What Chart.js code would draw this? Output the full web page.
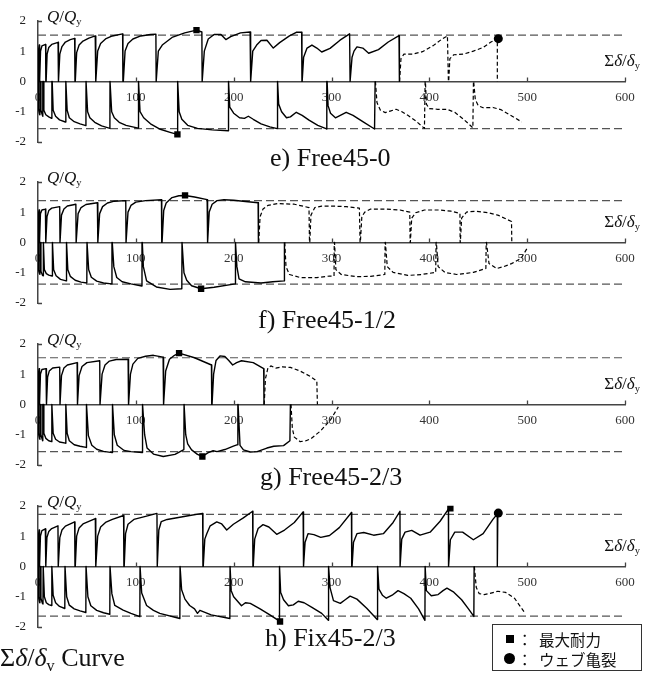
<!DOCTYPE html>
<html><head><meta charset="utf-8">
<script src="https://cdn.jsdelivr.net/npm/chart.js@4.4.0/dist/chart.umd.min.js"></script>
<style>
body{margin:0;background:#fff;width:660px;height:676px;position:relative;overflow:hidden;font-family:"Liberation Serif","DejaVu Serif",serif;color:#111}
canvas{position:absolute;left:0}
.t{position:absolute;white-space:nowrap;line-height:1}
.title{font-size:26px}
.ax{font-size:17px}
.ax i,.bt i{font-style:italic}
sub{font-size:0.62em;vertical-align:-0.28em;line-height:0}
#leg{position:absolute;left:492px;top:624px;width:148px;height:45px;border:1px solid #333;background:#fff;font-family:"Noto Sans CJK JP",sans-serif;font-size:15.5px;color:#111}
#leg .r{position:absolute;left:0;width:148px;height:20px;line-height:20px}
#leg .sq{position:absolute;left:13px;top:6px;width:8px;height:8px;background:#000}
#leg .ci{position:absolute;left:11px;top:4px;width:11px;height:11px;border-radius:50%;background:#000}
#leg .co{position:absolute;left:24px;top:0}
#leg .tx{position:absolute;left:46px;top:0}
</style></head><body>
<canvas id="ce" width="660" height="162" style="top:1px"></canvas>
<canvas id="cf" width="660" height="162" style="top:162px"></canvas>
<canvas id="cg" width="660" height="162" style="top:324px"></canvas>
<canvas id="ch" width="660" height="162" style="top:486px"></canvas>
<div class="t title" style="left:270px;top:145px">e) Free45-0</div>
<div class="t title" style="left:258px;top:307px">f) Free45-1/2</div>
<div class="t title" style="left:260px;top:464px">g) Free45-2/3</div>
<div class="t title" style="left:265px;top:625px">h) Fix45-2/3</div>
<div class="t title bt" style="left:0px;top:645px">Σ<i>δ</i>/<i>δ</i><sub>v</sub> Curve</div>
<div id="leg">
  <div class="r" style="top:4px"><div class="sq"></div><span class="co">：</span><span class="tx">最大耐力</span></div>
  <div class="r" style="top:24px"><div class="ci"></div><span class="co">：</span><span class="tx">ウェブ亀裂</span></div>
</div>
<script>
// ---------- data (x = Σδ/δy, y = Q/Qy) ----------
const xTicks = [0,100,200,300,400,500,600];
const yTicks = [-2,-1,0,1,2];

// e) Free45-0
const ePosSolid = [[0,0],[0.4,1.0],[1.2,1.2],[1.5,0],[1.8,0],[2.6,1.0],[4,1.17],[7.8,1.22],[8,0],[8.3,0],[9.3,0.9],[11,1.12],[14,1.22],[20.5,1.29],[20.8,0],[21,0],[22.3,0.9],[24.5,1.15],[28,1.3],[33,1.38],[37.5,1.42],[37.8,0],[38.1,0],[39.5,0.95],[42,1.2],[46,1.33],[52,1.43],[58.5,1.5],[58.9,0],[59.2,0],[61,1.0],[64,1.25],[69,1.4],[76,1.5],[86.5,1.57],[86.8,0],[87.2,0],[89,1.0],[92,1.25],[97,1.4],[105,1.5],[115,1.55],[120.5,1.56],[120.8,0],[121.2,0],[123,1.0],[127,1.2],[137,1.45],[150,1.6],[162,1.69],[167.5,1.63],[167.8,0],[168.2,0],[170,1.0],[174,1.4],[180,1.55],[187,1.55],[192,1.38],[197,1.48],[207,1.6],[216.8,1.63],[217.2,0],[217.5,0],[219.5,1.0],[223.5,1.2],[228,1.35],[234,1.36],[240.5,1.1],[247,1.28],[257,1.5],[264,1.62],[269.5,1.62],[269.8,0],[270,0],[271.5,0.8],[275,1.1],[280,1.2],[285,1.1],[290,0.97],[298.5,1.09],[308.7,1.36],[318.5,1.57],[319,0],[319.3,0],[321,0.8],[323,1.0],[326,1.14],[332,1.1],[338,0.93],[348,1.05],[358,1.3],[369,1.51],[369.4,0]];
const ePosDash = [[369.6,0],[371,0.75],[374,0.9],[383,0.9],[393,0.98],[404,1.18],[413,1.4],[418.5,1.5],[419.5,0],[419.8,0],[421,0.75],[425,0.88],[435,0.9],[445,1.0],[455,1.12],[463,1.3],[469.5,1.41],[469.5,0]];
const eNegSolid = [[0,0],[0.4,-0.9],[1.5,-1.08],[1.9,-1.1],[2,0],[2.2,0],[3,-0.95],[4.5,-1.12],[4.8,-1.15],[5,0],[5.2,0],[6,-0.95],[8,-1.1],[11,-1.17],[14,-1.22],[14.2,0],[14.5,0],[15.5,-0.95],[18,-1.15],[22,-1.27],[28,-1.34],[28.3,0],[28.6,0],[29.8,-0.95],[32,-1.2],[37,-1.33],[43,-1.4],[49,-1.46],[49.1,0],[49.4,0],[50.7,-1.0],[53,-1.2],[58,-1.35],[65,-1.47],[73.5,-1.55],[73.6,0],[73.9,0],[75.3,-1.0],[78,-1.2],[83,-1.35],[90,-1.45],[102.4,-1.54],[102.6,0],[102.9,0],[104.3,-1.0],[108,-1.2],[115,-1.4],[125,-1.58],[135,-1.68],[142.5,-1.75],[142.6,0],[142.9,0],[144.3,-1.0],[147,-1.25],[153,-1.45],[163,-1.55],[178,-1.6],[194.5,-1.63],[194.6,0],[194.9,0],[196,-0.85],[200,-1.05],[206,-1.2],[211,-1.22],[215,-1.15],[220,-1.25],[228,-1.4],[237,-1.5],[244.5,-1.56],[244.7,0],[245,0],[246,-0.75],[249,-1.0],[254,-1.2],[258,-1.17],[264,-1.02],[270,-1.12],[277,-1.28],[286,-1.45],[295,-1.57],[295.2,0],[295.5,0],[296.5,-0.8],[299,-1.05],[304,-1.2],[309,-1.12],[315,-1.02],[322,-1.12],[332,-1.33],[344,-1.57],[344.6,0]];
const eNegDash = [[344.9,0],[346.5,-0.7],[350,-0.95],[355,-1.03],[360,-0.98],[366,-0.92],[372,-1.0],[378,-1.12],[386,-1.3],[395,-1.55],[395.7,0],[396,0],[397,-0.75],[400,-0.9],[408,-0.92],[418,-0.92],[426,-1.02],[435,-1.25],[444.5,-1.53],[445.1,0],[445.3,0],[447,-0.6],[450,-0.8],[455,-0.87],[465,-0.86],[473,-0.93],[483,-1.12],[494.5,-1.34]];
const eMax = [[162,1.69],[142.5,-1.75]];
const eCrack = [[470.5,1.41]];
const eLimits = [1.53,-1.56];

// f) Free45-1/2
const fPosSolid = [[0,0],[0.4,0.95],[1.1,1.07],[1.4,0],[1.7,0],[2.5,0.95],[4,1.07],[7.6,1.1],[7.8,0],[8.1,0],[9.2,0.85],[11,1.05],[14,1.13],[22.2,1.18],[22.5,0],[22.8,0],[24,0.9],[26.5,1.1],[30,1.2],[38.7,1.26],[39,0],[39.3,0],[41,0.95],[44,1.15],[49,1.25],[60.7,1.31],[61,0],[61.3,0],[63,0.95],[66,1.18],[71,1.3],[78,1.36],[89.7,1.38],[90,0],[90.3,0],[92,1.0],[95,1.22],[100,1.33],[110,1.38],[126.2,1.41],[126.5,0],[126.8,0],[128.5,1.05],[131,1.3],[137,1.48],[144,1.54],[150.3,1.55],[160,1.5],[172.9,1.41],[173.2,0],[173.5,0],[175,1.0],[178,1.26],[183,1.38],[190,1.41],[200,1.39],[212,1.35],[225,1.31],[225.3,0]];
const fPosDash = [[225.6,0],[227,0.85],[230,1.1],[235,1.22],[245,1.28],[262,1.26],[277,1.15],[277.5,0],[277.8,0],[279,0.9],[283,1.15],[290,1.2],[300,1.2],[315,1.18],[328.5,1.13],[329.2,0],[329.5,0],[331,0.85],[334,1.0],[340,1.1],[355,1.1],[370,1.07],[380,1.0],[380.4,0],[380.6,0],[382,0.8],[386,0.98],[395,1.07],[410,1.07],[422,1.03],[431.3,0.96],[431.5,0],[431.7,0],[433,0.8],[438,1.0],[447,1.03],[460,0.98],[470,0.9],[484,0.69],[484.3,0]];
const fNegSolid = [[0,0],[0.4,-0.9],[1.5,-1.03],[1.9,-1.05],[2,0],[2.2,0],[3,-0.95],[4.5,-1.08],[5.2,-1.1],[5.4,0],[5.6,0],[6.5,-0.9],[8.5,-1.03],[11,-1.08],[14.4,-1.11],[14.6,0],[14.9,0],[16,-0.9],[18.5,-1.1],[23,-1.22],[28.8,-1.27],[29,0],[29.3,0],[30.5,-0.9],[33,-1.12],[38,-1.25],[44,-1.31],[49.9,-1.34],[50.1,0],[50.4,0],[51.8,-0.9],[54.5,-1.15],[60,-1.28],[67,-1.34],[75.4,-1.37],[75.6,0],[75.9,0],[77.5,-0.8],[80.5,-1.16],[86,-1.3],[95,-1.37],[106.1,-1.44],[106.3,0],[106.6,0],[107.7,-0.8],[111,-1.27],[121,-1.47],[135,-1.55],[147,-1.53],[147.2,0],[147.5,0],[149.2,-1.0],[152,-1.25],[157,-1.43],[166.7,-1.53],[180,-1.48],[201.5,-1.37],[201.7,0],[202,0],[203.3,-0.8],[205.5,-1.2],[212,-1.3],[228,-1.34],[240,-1.3],[251.7,-1.27],[251.9,0]];
const fNegDash = [[252.2,0],[253.5,-0.8],[257,-1.06],[268,-1.16],[285,-1.16],[298,-1.11],[302.6,-1.11],[302.8,0],[303.1,0],[304.5,-0.9],[310,-1.06],[325,-1.13],[340,-1.12],[354.5,-1.06],[354.8,0],[355.1,0],[357,-0.8],[363,-0.99],[378,-1.09],[392,-1.06],[406.5,-0.99],[406.9,0],[407.2,0],[409,-0.8],[416,-0.99],[428,-1.06],[445,-0.99],[457.8,-0.86],[458.1,0],[458.4,0],[461,-0.7],[469,-0.86],[476,-0.8],[484,-0.7],[494,-0.52],[500,-0.19]];
const fMax = [[150.3,1.55],[166.7,-1.53]];
const fCrack = [];
const fLimits = [1.38,-1.38];

// g) Free45-2/3
const gPosSolid = [[0,0],[0.4,1.0],[1.1,1.18],[1.4,0],[1.7,0],[2.5,1.0],[4,1.15],[8.2,1.18],[8.5,0],[8.8,0],[9.8,0.9],[11.5,1.1],[15,1.2],[22.2,1.23],[22.5,0],[22.8,0],[24,0.95],[26.5,1.2],[30,1.3],[40,1.38],[40.2,0],[40.5,0],[42,0.95],[45,1.25],[50,1.38],[63.1,1.44],[63.4,0],[63.7,0],[65.5,1.0],[68.5,1.3],[73,1.43],[80,1.48],[92.1,1.49],[92.4,0],[92.7,0],[94.5,1.0],[97,1.33],[102,1.52],[110,1.59],[118,1.62],[127.9,1.56],[128.2,0],[128.5,0],[130.5,1.1],[134.4,1.49],[139.5,1.62],[144.2,1.69],[160,1.54],[177.3,1.3],[177.6,0],[177.9,0],[179.5,1.0],[182,1.45],[186,1.6],[191,1.58],[195,1.45],[199,1.3],[203,1.38],[208,1.44],[220,1.38],[230.7,1.18],[231,0]];
const gPosDash = [[231.2,0],[232.5,0.85],[235,1.2],[238,1.27],[243,1.2],[250,1.24],[258,1.22],[268,1.1],[278,0.93],[285,0.77],[285.6,0]];
const gNegSolid = [[0,0],[0.4,-0.95],[1.5,-1.12],[1.9,-1.15],[2,0],[2.2,0],[3,-1.0],[4.5,-1.18],[4.8,-1.2],[5,0],[5.2,0],[6,-0.95],[8,-1.12],[11,-1.2],[13.8,-1.23],[14,0],[14.3,0],[15.5,-0.95],[18,-1.15],[22,-1.24],[28.1,-1.28],[28.3,0],[28.6,0],[29.8,-0.95],[32,-1.2],[37,-1.33],[43,-1.38],[49.2,-1.42],[49.4,0],[49.7,0],[51.5,-1.03],[55,-1.35],[60,-1.48],[67,-1.55],[75.8,-1.59],[76,0],[76.3,0],[78,-1.0],[81,-1.35],[88,-1.52],[95,-1.56],[106.5,-1.59],[106.7,0],[107,0],[109,-1.0],[111.5,-1.44],[118,-1.64],[128,-1.72],[140,-1.65],[149.1,-1.49],[149.3,0],[149.6,0],[151,-1.0],[153,-1.3],[157,-1.5],[163,-1.65],[168,-1.72],[174,-1.59],[179,-1.53],[183,-1.56],[191,-1.49],[199.7,-1.38],[204,-1.33],[204.3,0],[204.5,0],[206.5,-1.35],[210,-1.5],[217,-1.57],[224,-1.56],[234,-1.44],[241,-1.38],[251,-1.36],[257.5,-1.2],[258,0]];
const gNegDash = [[258.6,0],[260,-0.8],[262,-1.08],[268,-1.23],[274,-1.2],[279,-1.13],[289,-0.87],[299,-0.51],[307,-0.08]];
const gMax = [[144.2,1.69],[168,-1.72]];
const gCrack = [];
const gLimits = [1.54,-1.56];

// h) Fix45-2/3
const hPosSolid = [[0,0],[0.4,1.0],[1.1,1.2],[1.4,0],[1.7,0],[2.5,1.0],[4,1.18],[7.5,1.24],[7.8,0],[8.1,0],[9.1,0.95],[11,1.15],[14,1.25],[20.4,1.34],[20.7,0],[21,0],[22.3,0.95],[24.5,1.2],[28,1.33],[37.5,1.47],[37.8,0],[38.1,0],[39.5,1.0],[42,1.27],[46,1.4],[58.6,1.58],[58.9,0],[59.2,0],[61,1.0],[64,1.3],[69,1.45],[76,1.55],[87.5,1.68],[87.8,0],[88.1,0],[89.5,1.08],[92,1.39],[98,1.55],[110,1.65],[121.6,1.75],[121.9,0],[122.2,0],[123.5,1.2],[126,1.48],[132,1.55],[145,1.62],[155,1.68],[168.3,1.75],[168.6,0],[168.9,0],[170.5,0.9],[172.5,1.08],[176,1.34],[182.7,1.47],[187.8,1.4],[192.9,1.2],[199.7,1.39],[209.9,1.6],[219.4,1.82],[219.7,0],[220,0],[221.5,0.9],[225,1.25],[230,1.38],[236,1.3],[244,1.06],[252,1.2],[262,1.45],[271,1.8],[271.3,0],[271.5,0],[273,0.8],[276,1.08],[282,1.05],[289,0.96],[298,1.02],[308,1.28],[320.4,1.78],[320.7,0],[321,0],[322.5,0.8],[326,1.08],[333,1.12],[343,1.03],[353,1.08],[363,1.45],[370,1.82],[370.1,0],[370.4,0],[371.8,0.9],[375.2,1.13],[382,1.19],[390.5,1.03],[400.8,1.13],[411,1.49],[419.5,1.89],[419.5,0],[419.8,0],[421.5,0.88],[426,1.13],[434,1.13],[445,0.88],[455,1.08],[465,1.55],[470,1.75],[469.5,0]];
const hPosDash = [];
const hNegSolid = [[0,0],[0.4,-1.0],[1.5,-1.18],[1.9,-1.2],[2,0],[2.2,0],[3,-1.05],[4.5,-1.22],[5.1,-1.24],[5.3,0],[5.5,0],[6.5,-1.0],[8.5,-1.2],[11,-1.26],[13.8,-1.29],[14,0],[14.3,0],[15.5,-0.95],[18,-1.2],[22,-1.32],[27.4,-1.39],[27.6,0],[27.9,0],[29.3,-1.0],[32,-1.28],[37,-1.4],[43,-1.47],[48.9,-1.52],[49.1,0],[49.4,0],[51,-1.0],[54,-1.3],[60,-1.45],[67,-1.53],[73.4,-1.58],[73.6,0],[73.9,0],[75.5,-0.9],[78.5,-1.29],[87,-1.44],[95,-1.55],[104.1,-1.66],[104.3,0],[104.6,0],[106,-0.88],[111,-1.29],[118,-1.45],[124.5,-1.55],[145,-1.72],[145.2,0],[145.5,0],[146.8,-0.77],[150.2,-1.08],[155,-1.29],[160,-1.4],[163,-1.55],[165.5,-1.45],[177,-1.6],[196.1,-1.72],[196.3,0],[196.5,0],[197.5,-0.8],[200,-1.0],[204,-1.15],[208,-1.3],[212,-1.2],[217,-1.22],[227,-1.4],[237,-1.6],[246.5,-1.8],[246.7,0],[247,0],[248,-0.85],[251,-1.1],[256,-1.3],[261,-1.27],[266,-1.15],[272,-1.2],[280,-1.35],[290,-1.55],[296.8,-1.78],[296.9,0],[297.1,0],[298.5,-0.7],[302,-1.13],[309,-1.22],[314,-1.1],[319,-0.98],[326,-1.08],[336,-1.38],[346.7,-1.75],[347,0],[347.2,0],[348.5,-0.75],[352,-0.95],[356,-1.05],[362,-0.95],[368,-0.8],[374,-0.9],[381,-1.05],[389,-1.4],[395.5,-1.78],[395.7,0],[396,0],[397,-0.8],[402,-0.97],[409,-0.93],[414,-0.8],[418,-0.72],[425,-0.85],[433,-1.1],[440,-1.4],[445.5,-1.65],[445.8,0]];
const hNegDash = [[446,0],[448,-0.7],[451,-0.9],[456,-0.93],[462,-0.89],[470,-0.82],[478,-0.86],[487,-1.05],[498,-1.55]];
const hMax = [[421.5,1.92],[247.4,-1.82]];
const hCrack = [[470.5,1.76]];
const hLimits = [1.72,-1.64];

// ---------- drawing ----------
const toXY = a => a.map(p => ({x:p[0], y:p[1]}));
const SERIF = '"Liberation Serif", "Times New Roman", serif';

const tickPlugin = {
  id:'axisTicks',
  afterDraw(chart){
    const {ctx, scales:{x, y}} = chart;
    const y0 = y.getPixelForValue(0);
    const xl = x.getPixelForValue(0);
    ctx.save();
    ctx.strokeStyle = '#444'; ctx.lineWidth = 1.3;
    ctx.beginPath();
    xTicks.forEach(v => { if (v === 0) return; const px = Math.round(x.getPixelForValue(v)) + 0.5; ctx.moveTo(px, y0); ctx.lineTo(px, y0 - 4); });
    [yTicks[0], yTicks[yTicks.length-1]].forEach(v => { const py = Math.round(y.getPixelForValue(v)) + 0.5; ctx.moveTo(xl, py); ctx.lineTo(xl + 4, py); });
    ctx.stroke();
    ctx.restore();
  }
};

function curve(data, dashed){
  return {data: toXY(data), showLine:true, pointRadius:0, borderColor:'#000', borderWidth: dashed ? 1.2 : 1.4,
          borderDash: dashed ? [4,2.5] : [], tension:0, borderJoinStyle:'round', order:1};
}
function limitLine(v){
  return {data: toXY([[xTicks[0], v],[xTicks[xTicks.length-1], v]]), showLine:true, pointRadius:0,
          borderColor:'#555', borderWidth:1.2, borderDash:[8,4], order:2};
}
function marks(data, style){
  return {data: toXY(data), showLine:false, pointStyle:style, pointRadius:4.5,
          backgroundColor:'#000', borderColor:'#000', borderWidth:0, order:0};
}

function panel(id, top, ps, pd, ns, nd, mx, cr, lim){
  new Chart(document.getElementById(id), {
    type:'scatter',
    data:{datasets:[
      marks(mx,'rect'), marks(cr,'circle'),
      curve(ps,false), curve(pd,true), curve(ns,false), curve(nd,true),
      limitLine(lim[0]), limitLine(lim[1])
    ]},
    options:{
      responsive:false, animation:false, devicePixelRatio:1,
      layout:{padding:{top:13,bottom:21,left:0,right:35}},
      plugins:{legend:{display:false}, tooltip:{enabled:false}},
      scales:{
        x:{type:'linear', min:0, max:600, position:{y:0},
           afterBuildTicks: s => { s.ticks = xTicks.map(v => ({value:v})); },
           ticks:{padding:8, maxRotation:0, autoSkip:false, color:'#333', font:{family:SERIF, size:13}},
           grid:{display:false, drawTicks:false},
           border:{display:true, color:'#444', width:1.5}},
        y:{type:'linear', min:-2, max:2,
           afterBuildTicks: s => { s.ticks = yTicks.map(v => ({value:v})); },
           afterFit: s => { s.width = 38; },
           ticks:{padding:12, color:'#222', font:{family:SERIF, size:13}},
           grid:{display:false, drawTicks:false},
           border:{display:true, color:'#444', width:1.5}}
      }
    },
    plugins:[tickPlugin]
  });
  const z = top + 77;
  const q = document.createElement('div');
  q.className = 't ax'; q.style.left = '47px'; q.style.top = (z - 70) + 'px';
  q.innerHTML = '<i>Q</i>/<i>Q</i><sub>y</sub>';
  document.body.appendChild(q);
  const s = document.createElement('div');
  s.className = 't ax'; s.style.right = '20px'; s.style.top = (z - 26) + 'px';
  s.innerHTML = 'Σ<i>δ</i>/<i>δ</i><sub>y</sub>';
  document.body.appendChild(s);
}

panel('ce', 1,   ePosSolid, ePosDash, eNegSolid, eNegDash, eMax, eCrack, eLimits);
panel('cf', 162, fPosSolid, fPosDash, fNegSolid, fNegDash, fMax, fCrack, fLimits);
panel('cg', 324, gPosSolid, gPosDash, gNegSolid, gNegDash, gMax, gCrack, gLimits);
panel('ch', 486, hPosSolid, hPosDash, hNegSolid, hNegDash, hMax, hCrack, hLimits);
</script>
</body></html>
